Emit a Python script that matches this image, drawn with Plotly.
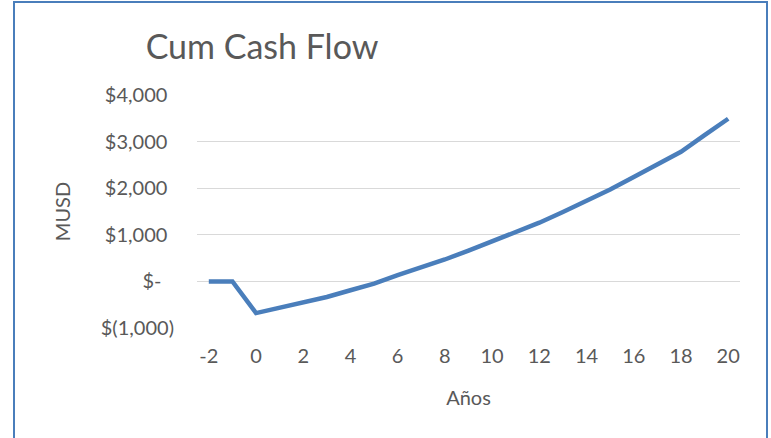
import plotly.graph_objects as go

# Cumulative cash flow per year (MUSD)
years = list(range(-2, 21))
cum_cash = [0, 0, -680, -565, -450, -335, -190, -50, 135, 300, 470, 660,
            860, 1050, 1260, 1490, 1720, 1970, 2240, 2510, 2780, 3140, 3490]

x_ticks = list(range(-2, 21, 2))
x_tick_text = ["-2"] + [str(v) for v in x_ticks[1:]]
y_ticks = [-1000, 0, 1000, 2000, 3000, 4000]
y_tick_text = ["$(1,000)", "$-\u2002\u2009", "$1,000\u2004", "$2,000\u2004",
               "$3,000\u2004", "$4,000\u2004"]

W, H = 771, 438
L, R, T, B = 197, 31, 95, 110
PW, PH = W - L - R, H - T - B

def px_x(px):
    return (px - L) / PW

def px_y(py):
    return (H - B - py) / PH

text_color = "#595959"
font = "Lato, 'Open Sans', sans-serif"

fig = go.Figure()
fig.add_trace(go.Scatter(
    x=years, y=cum_cash, mode="lines",
    line=dict(color="#4A7EBB", width=4.5),
    hoverinfo="x+y", showlegend=False,
))

fig.update_layout(
    width=W, height=H,
    margin=dict(l=L, r=R, t=T, b=B),
    paper_bgcolor="white", plot_bgcolor="white",
    font=dict(family=font, color=text_color, size=20),
    title=dict(text="Cum Cash Flow", x=262 / W, xanchor="center",
               xref="container", y=1 - 47 / H, yref="container",
               yanchor="middle", font=dict(size=34, color=text_color)),
    xaxis=dict(range=[-2.5, 20.5], tickvals=x_ticks, ticktext=x_tick_text,
               showgrid=False, zeroline=False, showline=False, ticks="",
               ticklabelstandoff=14, tickfont=dict(size=20, color=text_color),
               title=dict(text="Años", standoff=24, font=dict(size=20, color=text_color))),
    yaxis=dict(range=[-1000, 4000], tickvals=y_ticks, ticktext=y_tick_text,
               showgrid=True, gridcolor="#D9D9D9", gridwidth=1.3,
               zeroline=False, showline=False, ticks="", ticklabelstandoff=22,
               tickfont=dict(size=20, color=text_color),
               title=dict(text="MUSD", standoff=24, font=dict(size=20, color=text_color))),
    shapes=[dict(type="rect", xref="paper", yref="paper",
                 x0=px_x(14), x1=px_x(767), y0=px_y(446), y1=px_y(2),
                 line=dict(color="#4A7EBB", width=2), fillcolor="rgba(0,0,0,0)",
                 layer="below")],
)

fig.write_html("out.html")
